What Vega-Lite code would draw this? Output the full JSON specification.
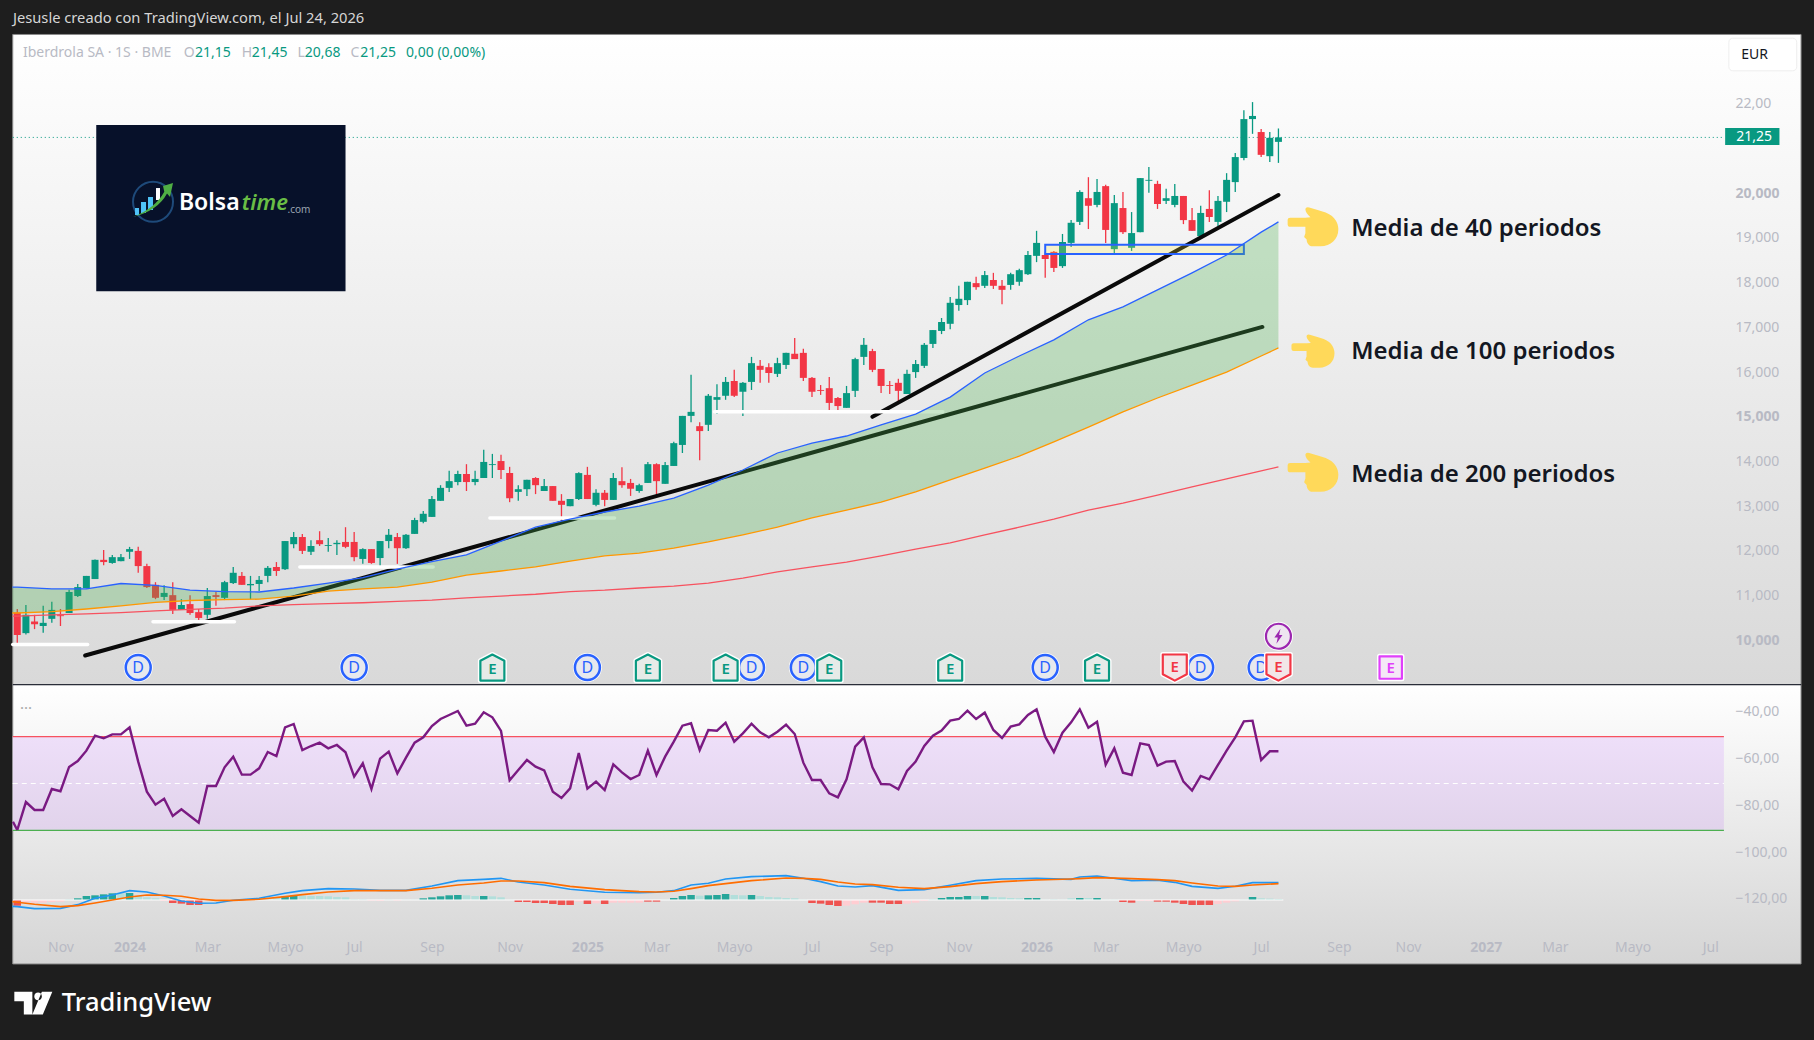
{
  "$schema": "https://vega.github.io/schema/vega-lite/v6.json",
  "width": 1814,
  "height": 1040,
  "padding": 0,
  "autosize": {"type": "none"},
  "background": "#1e1e1e",
  "config": {"view": {"stroke": null}, "font": "Noto Sans"},
  "datasets": {
    "semanas": [
      {"d":"2023-10-02","o":10.62,"h":10.70,"l":9.89,"c":10.12,"r":-90.55,"m":-122.89,"f":"B"},
      {"d":"2023-10-09","o":10.16,"h":10.79,"l":10.13,"c":10.57,"r":-78.6,"m":-121.46,"f":"b"},
      {"d":"2023-10-16","o":10.42,"h":10.57,"l":10.25,"c":10.36,"r":-82,"m":-121.61,"f":"b"},
      {"d":"2023-10-23","o":10.32,"h":10.77,"l":10.17,"c":10.39,"r":-82,"m":-121.61,"f":"b"},
      {"d":"2023-10-30","o":10.48,"h":10.86,"l":10.39,"c":10.68,"r":-73.03,"m":-121.32,"f":"b"},
      {"d":"2023-11-06","o":10.56,"h":10.70,"l":10.32,"c":10.54,"r":-74,"m":-121.18,"f":"b"},
      {"d":"2023-11-13","o":10.61,"h":11.13,"l":10.61,"c":11.08,"r":-63.6,"m":-120.18,"f":"a"},
      {"d":"2023-11-20","o":10.99,"h":11.26,"l":10.97,"c":11.19,"r":-61.07,"m":-119.75,"f":"A"},
      {"d":"2023-11-27","o":11.17,"h":11.44,"l":11.16,"c":11.44,"r":-56.65,"m":-118.76,"f":"A"},
      {"d":"2023-12-04","o":11.37,"h":11.81,"l":11.37,"c":11.80,"r":-50.24,"m":-118.47,"f":"A"},
      {"d":"2023-12-11","o":11.80,"h":12.02,"l":11.68,"c":11.75,"r":-51.38,"m":-118.05,"f":"A"},
      {"d":"2023-12-18","o":11.73,"h":11.91,"l":11.71,"c":11.86,"r":-49.67,"m":-117.62,"f":"A"},
      {"d":"2023-12-25","o":11.77,"h":11.93,"l":11.77,"c":11.86,"r":-49.67,"m":-117.62,"f":"a"},
      {"d":"2024-01-01","o":11.98,"h":12.09,"l":11.82,"c":12.04,"r":-46.68,"m":-117.48,"f":"A"},
      {"d":"2024-01-08","o":12.00,"h":12.09,"l":11.51,"c":11.66,"r":-61.35,"m":-118.76,"f":"a"},
      {"d":"2024-01-15","o":11.66,"h":11.71,"l":11.17,"c":11.19,"r":-74.17,"m":-119.33,"f":"a"},
      {"d":"2024-01-22","o":11.24,"h":11.30,"l":10.92,"c":10.95,"r":-79.73,"m":-119.75,"f":"a"},
      {"d":"2024-01-29","o":10.97,"h":11.23,"l":10.90,"c":11.06,"r":-77.16,"m":-120.9,"f":"b"},
      {"d":"2024-02-05","o":11.01,"h":11.30,"l":10.59,"c":10.68,"r":-84.57,"m":-121.75,"f":"B"},
      {"d":"2024-02-12","o":10.68,"h":10.92,"l":10.68,"c":10.79,"r":-81.72,"m":-122.03,"f":"B"},
      {"d":"2024-02-19","o":10.81,"h":11.01,"l":10.57,"c":10.61,"r":-84.57,"m":-122.6,"f":"B"},
      {"d":"2024-02-26","o":10.63,"h":10.70,"l":10.43,"c":10.50,"r":-87.42,"m":-122.6,"f":"B"},
      {"d":"2024-03-04","o":10.57,"h":11.17,"l":10.48,"c":10.99,"r":-71.75,"m":-120.75,"f":"b"},
      {"d":"2024-03-11","o":11.01,"h":11.08,"l":10.77,"c":10.97,"r":-71.75,"m":-120.75,"f":"b"},
      {"d":"2024-03-18","o":10.95,"h":11.33,"l":10.90,"c":11.30,"r":-63.77,"m":-120.33,"f":"a"},
      {"d":"2024-03-25","o":11.28,"h":11.64,"l":11.26,"c":11.51,"r":-59.21,"m":-120.33,"f":"a"},
      {"d":"2024-04-01","o":11.44,"h":11.53,"l":11.24,"c":11.24,"r":-66.9,"m":-120.18,"f":"a"},
      {"d":"2024-04-08","o":11.23,"h":11.44,"l":10.92,"c":11.26,"r":-66.9,"m":-120.04,"f":"a"},
      {"d":"2024-04-15","o":11.26,"h":11.44,"l":11.10,"c":11.35,"r":-64.2,"m":-119.75,"f":"a"},
      {"d":"2024-04-22","o":11.44,"h":11.66,"l":11.30,"c":11.62,"r":-57.22,"m":-119.61,"f":"a"},
      {"d":"2024-04-29","o":11.64,"h":11.75,"l":11.44,"c":11.55,"r":-58.93,"m":-119.47,"f":"a"},
      {"d":"2024-05-06","o":11.59,"h":12.22,"l":11.57,"c":12.22,"r":-46.68,"m":-119.04,"f":"A"},
      {"d":"2024-05-13","o":12.15,"h":12.42,"l":12.06,"c":12.31,"r":-45.25,"m":-118.62,"f":"A"},
      {"d":"2024-05-20","o":12.31,"h":12.38,"l":11.93,"c":12.00,"r":-56.37,"m":-118.62,"f":"a"},
      {"d":"2024-05-27","o":11.98,"h":12.24,"l":11.91,"c":12.11,"r":-54.66,"m":-118.76,"f":"a"},
      {"d":"2024-06-03","o":12.24,"h":12.44,"l":12.11,"c":12.15,"r":-53.23,"m":-118.76,"f":"a"},
      {"d":"2024-06-10","o":12.11,"h":12.29,"l":11.98,"c":12.13,"r":-55.65,"m":-118.9,"f":"a"},
      {"d":"2024-06-17","o":12.15,"h":12.24,"l":11.91,"c":12.18,"r":-54.23,"m":-119.19,"f":"a"},
      {"d":"2024-06-24","o":12.20,"h":12.53,"l":12.06,"c":12.09,"r":-57.36,"m":-119.33,"f":"a"},
      {"d":"2024-07-01","o":12.20,"h":12.42,"l":11.77,"c":11.86,"r":-67.76,"m":-120.18,"f":"a"},
      {"d":"2024-07-08","o":11.82,"h":12.06,"l":11.71,"c":12.04,"r":-62.06,"m":-120.18,"f":"a"},
      {"d":"2024-07-15","o":12.04,"h":12.04,"l":11.71,"c":11.73,"r":-73.03,"m":-120.75,"f":"b"},
      {"d":"2024-07-22","o":11.84,"h":12.22,"l":11.64,"c":12.22,"r":-60.07,"m":-120.9,"f":"b"},
      {"d":"2024-07-29","o":12.22,"h":12.49,"l":12.06,"c":12.36,"r":-57.08,"m":-120.33,"f":"a"},
      {"d":"2024-08-05","o":12.31,"h":12.40,"l":11.71,"c":12.06,"r":-66.34,"m":-120.75,"f":"b"},
      {"d":"2024-08-12","o":12.06,"h":12.38,"l":12.04,"c":12.36,"r":-59.64,"m":-120.33,"f":"a"},
      {"d":"2024-08-19","o":12.38,"h":12.74,"l":12.38,"c":12.69,"r":-53.23,"m":-120.33,"f":"a"},
      {"d":"2024-08-26","o":12.65,"h":12.89,"l":12.62,"c":12.83,"r":-50.95,"m":-119.75,"f":"A"},
      {"d":"2024-09-02","o":12.76,"h":13.23,"l":12.76,"c":13.16,"r":-46.11,"m":-119.33,"f":"A"},
      {"d":"2024-09-09","o":13.12,"h":13.47,"l":13.12,"c":13.41,"r":-43.12,"m":-118.9,"f":"A"},
      {"d":"2024-09-16","o":13.41,"h":13.79,"l":13.32,"c":13.56,"r":-41.41,"m":-118.47,"f":"A"},
      {"d":"2024-09-23","o":13.54,"h":13.79,"l":13.47,"c":13.72,"r":-39.7,"m":-118.33,"f":"A"},
      {"d":"2024-09-30","o":13.72,"h":13.94,"l":13.34,"c":13.54,"r":-45.97,"m":-118.47,"f":"a"},
      {"d":"2024-10-07","o":13.54,"h":13.79,"l":13.47,"c":13.61,"r":-45.11,"m":-118.76,"f":"a"},
      {"d":"2024-10-14","o":13.63,"h":14.26,"l":13.63,"c":13.99,"r":-40.27,"m":-118.76,"f":"A"},
      {"d":"2024-10-21","o":13.92,"h":14.17,"l":13.63,"c":13.94,"r":-42.4,"m":-118.9,"f":"a"},
      {"d":"2024-10-28","o":14.01,"h":14.15,"l":13.61,"c":13.81,"r":-48.24,"m":-119.33,"f":"a"},
      {"d":"2024-11-04","o":13.74,"h":13.88,"l":13.09,"c":13.18,"r":-69.33,"m":-120.33,"f":"a"},
      {"d":"2024-11-11","o":13.32,"h":13.47,"l":13.12,"c":13.38,"r":-64.91,"m":-121.32,"f":"B"},
      {"d":"2024-11-18","o":13.38,"h":13.59,"l":13.23,"c":13.59,"r":-60.64,"m":-121.32,"f":"B"},
      {"d":"2024-11-25","o":13.63,"h":13.65,"l":13.27,"c":13.47,"r":-63.49,"m":-121.75,"f":"B"},
      {"d":"2024-12-02","o":13.34,"h":13.61,"l":13.34,"c":13.45,"r":-65.05,"m":-121.75,"f":"B"},
      {"d":"2024-12-09","o":13.45,"h":13.45,"l":13.12,"c":13.12,"r":-74.17,"m":-122.18,"f":"B"},
      {"d":"2024-12-16","o":13.12,"h":13.27,"l":12.67,"c":13.03,"r":-76.88,"m":-122.6,"f":"B"},
      {"d":"2024-12-23","o":13.00,"h":13.16,"l":13.00,"c":13.16,"r":-72.75,"m":-122.6,"f":"B"},
      {"d":"2024-12-30","o":13.16,"h":13.76,"l":13.14,"c":13.74,"r":-57.65,"m":-121.18,"f":"b"},
      {"d":"2025-01-06","o":13.70,"h":13.88,"l":13.16,"c":13.16,"r":-72.89,"m":-122.18,"f":"B"},
      {"d":"2025-01-13","o":13.03,"h":13.38,"l":13.00,"c":13.30,"r":-69.9,"m":-121.89,"f":"b"},
      {"d":"2025-01-20","o":13.30,"h":13.36,"l":13.00,"c":13.14,"r":-73.46,"m":-122.18,"f":"B"},
      {"d":"2025-01-27","o":13.14,"h":13.74,"l":13.14,"c":13.63,"r":-62.49,"m":-121.61,"f":"b"},
      {"d":"2025-02-03","o":13.56,"h":13.87,"l":13.41,"c":13.47,"r":-65.91,"m":-121.61,"f":"b"},
      {"d":"2025-02-10","o":13.52,"h":13.61,"l":13.23,"c":13.39,"r":-68.76,"m":-121.61,"f":"b"},
      {"d":"2025-02-17","o":13.34,"h":13.50,"l":13.30,"c":13.47,"r":-67.05,"m":-121.61,"f":"b"},
      {"d":"2025-02-24","o":13.52,"h":13.99,"l":13.52,"c":13.94,"r":-56.65,"m":-121.18,"f":"B"},
      {"d":"2025-03-03","o":13.94,"h":13.96,"l":13.21,"c":13.56,"r":-67.05,"m":-121.18,"f":"B"},
      {"d":"2025-03-10","o":13.50,"h":13.99,"l":13.50,"c":13.92,"r":-59.21,"m":-120.33,"f":"a"},
      {"d":"2025-03-17","o":13.90,"h":14.44,"l":13.90,"c":14.41,"r":-52.8,"m":-119.61,"f":"A"},
      {"d":"2025-03-24","o":14.37,"h":15.02,"l":14.19,"c":15.02,"r":-45.97,"m":-118.76,"f":"A"},
      {"d":"2025-03-31","o":15.02,"h":15.94,"l":14.88,"c":15.11,"r":-44.97,"m":-118.33,"f":"A"},
      {"d":"2025-04-07","o":14.79,"h":14.88,"l":14.03,"c":14.68,"r":-56.36,"m":-118.62,"f":"a"},
      {"d":"2025-04-14","o":14.82,"h":15.51,"l":14.68,"c":15.47,"r":-47.82,"m":-118.47,"f":"A"},
      {"d":"2025-04-21","o":15.38,"h":15.73,"l":15.06,"c":15.44,"r":-48.1,"m":-118.33,"f":"A"},
      {"d":"2025-04-28","o":15.47,"h":15.89,"l":15.38,"c":15.78,"r":-44.68,"m":-117.9,"f":"A"},
      {"d":"2025-05-05","o":15.80,"h":16.05,"l":15.44,"c":15.47,"r":-52.8,"m":-118.33,"f":"a"},
      {"d":"2025-05-12","o":15.56,"h":15.78,"l":15.02,"c":15.76,"r":-49.24,"m":-118.47,"f":"a"},
      {"d":"2025-05-19","o":15.78,"h":16.34,"l":15.60,"c":16.20,"r":-45.11,"m":-118.33,"f":"A"},
      {"d":"2025-05-26","o":16.14,"h":16.27,"l":15.76,"c":16.05,"r":-48.8,"m":-118.76,"f":"a"},
      {"d":"2025-06-02","o":16.11,"h":16.20,"l":15.76,"c":15.98,"r":-50.95,"m":-119.19,"f":"a"},
      {"d":"2025-06-09","o":15.96,"h":16.32,"l":15.89,"c":16.20,"r":-48.53,"m":-119.33,"f":"a"},
      {"d":"2025-06-16","o":16.16,"h":16.43,"l":16.07,"c":16.43,"r":-45.54,"m":-119.61,"f":"a"},
      {"d":"2025-06-23","o":16.41,"h":16.76,"l":16.29,"c":16.29,"r":-49.53,"m":-119.75,"f":"a"},
      {"d":"2025-06-30","o":16.43,"h":16.52,"l":15.80,"c":15.87,"r":-61.78,"m":-120.33,"f":"a"},
      {"d":"2025-07-07","o":15.87,"h":15.89,"l":15.44,"c":15.56,"r":-69.19,"m":-121.75,"f":"B"},
      {"d":"2025-07-14","o":15.60,"h":15.71,"l":15.49,"c":15.58,"r":-69.19,"m":-122.03,"f":"B"},
      {"d":"2025-07-21","o":15.64,"h":15.89,"l":15.15,"c":15.31,"r":-74.88,"m":-122.6,"f":"B"},
      {"d":"2025-07-28","o":15.42,"h":15.44,"l":15.09,"c":15.24,"r":-76.59,"m":-123.03,"f":"B"},
      {"d":"2025-08-04","o":15.20,"h":15.69,"l":15.20,"c":15.53,"r":-68.9,"m":-122.89,"f":"b"},
      {"d":"2025-08-11","o":15.58,"h":16.32,"l":15.44,"c":16.29,"r":-54.94,"m":-122.32,"f":"b"},
      {"d":"2025-08-18","o":16.34,"h":16.76,"l":16.16,"c":16.61,"r":-50.95,"m":-121.61,"f":"b"},
      {"d":"2025-08-25","o":16.47,"h":16.52,"l":16.00,"c":16.05,"r":-63.77,"m":-121.61,"f":"B"},
      {"d":"2025-09-01","o":16.07,"h":16.07,"l":15.53,"c":15.69,"r":-70.89,"m":-121.61,"f":"B"},
      {"d":"2025-09-08","o":15.71,"h":15.80,"l":15.51,"c":15.69,"r":-71.04,"m":-122.18,"f":"B"},
      {"d":"2025-09-15","o":15.76,"h":15.85,"l":15.33,"c":15.58,"r":-73.17,"m":-122.18,"f":"B"},
      {"d":"2025-09-22","o":15.51,"h":16.05,"l":15.51,"c":15.96,"r":-65.34,"m":-122.03,"f":"b"},
      {"d":"2025-09-29","o":16.00,"h":16.27,"l":15.87,"c":16.18,"r":-61.35,"m":-121.61,"f":"b"},
      {"d":"2025-10-06","o":16.14,"h":16.65,"l":16.09,"c":16.61,"r":-54.66,"m":-120.9,"f":"b"},
      {"d":"2025-10-13","o":16.63,"h":16.94,"l":16.54,"c":16.94,"r":-50.24,"m":-120.18,"f":"a"},
      {"d":"2025-10-20","o":16.92,"h":17.21,"l":16.85,"c":17.12,"r":-48.1,"m":-119.61,"f":"A"},
      {"d":"2025-10-27","o":17.08,"h":17.68,"l":16.96,"c":17.55,"r":-43.83,"m":-119.19,"f":"A"},
      {"d":"2025-11-03","o":17.50,"h":17.93,"l":17.37,"c":17.64,"r":-43.12,"m":-119.19,"f":"A"},
      {"d":"2025-11-10","o":17.61,"h":18.02,"l":17.50,"c":18.02,"r":-39.56,"m":-118.76,"f":"A"},
      {"d":"2025-11-17","o":17.99,"h":18.13,"l":17.84,"c":17.90,"r":-43.12,"m":-118.76,"f":"a"},
      {"d":"2025-11-24","o":17.93,"h":18.26,"l":17.88,"c":18.17,"r":-40.41,"m":-118.76,"f":"A"},
      {"d":"2025-12-01","o":18.06,"h":18.22,"l":17.86,"c":17.93,"r":-47.82,"m":-119.19,"f":"a"},
      {"d":"2025-12-08","o":17.93,"h":18.06,"l":17.52,"c":17.84,"r":-51.24,"m":-119.33,"f":"a"},
      {"d":"2025-12-15","o":17.95,"h":18.22,"l":17.84,"c":18.19,"r":-46.39,"m":-119.61,"f":"a"},
      {"d":"2025-12-22","o":18.02,"h":18.31,"l":17.93,"c":18.28,"r":-45.4,"m":-119.75,"f":"a"},
      {"d":"2025-12-29","o":18.19,"h":18.71,"l":18.17,"c":18.62,"r":-41.41,"m":-119.61,"f":"A"},
      {"d":"2026-01-05","o":18.60,"h":19.16,"l":18.46,"c":18.89,"r":-38.99,"m":-119.61,"f":"A"},
      {"d":"2026-01-12","o":18.62,"h":18.69,"l":18.11,"c":18.53,"r":-50.67,"m":-120.33,"f":"a"},
      {"d":"2026-01-19","o":18.69,"h":18.71,"l":18.24,"c":18.33,"r":-57.22,"m":-120.18,"f":"a"},
      {"d":"2026-01-26","o":18.37,"h":19.09,"l":18.33,"c":18.91,"r":-48.96,"m":-120.33,"f":"a"},
      {"d":"2026-02-02","o":18.89,"h":19.40,"l":18.80,"c":19.34,"r":-44.54,"m":-119.75,"f":"a"},
      {"d":"2026-02-09","o":19.36,"h":20.07,"l":19.29,"c":20.03,"r":-38.99,"m":-119.61,"f":"A"},
      {"d":"2026-02-16","o":19.89,"h":20.36,"l":19.20,"c":19.72,"r":-46.82,"m":-119.61,"f":"a"},
      {"d":"2026-02-23","o":19.74,"h":20.32,"l":19.69,"c":20.03,"r":-44.26,"m":-119.61,"f":"A"},
      {"d":"2026-03-02","o":20.16,"h":20.19,"l":18.89,"c":19.18,"r":-62.63,"m":-120.33,"f":"a"},
      {"d":"2026-03-09","o":18.75,"h":19.96,"l":18.66,"c":19.78,"r":-55.65,"m":-120.33,"f":"a"},
      {"d":"2026-03-16","o":19.67,"h":20.03,"l":19.09,"c":19.13,"r":-66.05,"m":-121.32,"f":"B"},
      {"d":"2026-03-23","o":18.78,"h":19.58,"l":18.71,"c":19.11,"r":-67.05,"m":-121.61,"f":"B"},
      {"d":"2026-03-30","o":19.13,"h":20.34,"l":19.13,"c":20.34,"r":-53.52,"m":-120.9,"f":"b"},
      {"d":"2026-04-06","o":20.28,"h":20.59,"l":20.01,"c":20.30,"r":-54.23,"m":-120.9,"f":"b"},
      {"d":"2026-04-13","o":20.21,"h":20.28,"l":19.65,"c":19.76,"r":-63.06,"m":-121.18,"f":"B"},
      {"d":"2026-04-20","o":19.83,"h":20.10,"l":19.76,"c":19.89,"r":-61.35,"m":-121.18,"f":"B"},
      {"d":"2026-04-27","o":19.74,"h":20.21,"l":19.69,"c":19.94,"r":-61.07,"m":-121.61,"f":"B"},
      {"d":"2026-05-04","o":19.94,"h":19.94,"l":19.31,"c":19.40,"r":-69.9,"m":-122.18,"f":"B"},
      {"d":"2026-05-11","o":19.40,"h":19.67,"l":19.16,"c":19.16,"r":-73.74,"m":-122.6,"f":"B"},
      {"d":"2026-05-18","o":19.04,"h":19.72,"l":19.04,"c":19.56,"r":-67.48,"m":-122.6,"f":"B"},
      {"d":"2026-05-25","o":19.65,"h":20.07,"l":19.36,"c":19.47,"r":-68.9,"m":-122.6,"f":"B"},
      {"d":"2026-06-01","o":19.36,"h":19.94,"l":19.27,"c":19.83,"r":-62.77,"m":-122.18,"f":"b"},
      {"d":"2026-06-08","o":19.81,"h":20.45,"l":19.58,"c":20.30,"r":-56.65,"m":-121.61,"f":"b"},
      {"d":"2026-06-15","o":20.25,"h":20.90,"l":20.03,"c":20.81,"r":-50.95,"m":-121.04,"f":"b"},
      {"d":"2026-06-22","o":20.79,"h":21.86,"l":20.74,"c":21.66,"r":-44.11,"m":-120.33,"f":"a"},
      {"d":"2026-06-29","o":21.66,"h":22.04,"l":21.33,"c":21.73,"r":-43.83,"m":-119.19,"f":"A"},
      {"d":"2026-07-06","o":21.37,"h":21.44,"l":20.81,"c":20.86,"r":-60.64,"m":-119.75,"f":"a"},
      {"d":"2026-07-13","o":20.83,"h":21.37,"l":20.70,"c":21.24,"r":-56.93,"m":-119.9,"f":"a"},
      {"d":"2026-07-20","o":21.15,"h":21.45,"l":20.68,"c":21.25,"r":-56.93,"m":-120.04,"f":"a"}
    ],
    "medias": [
      {"d":"2023-09-28","m40":11.19,"m100":10.61,"m200":10.54},
      {"d":"2023-10-02","m40":11.19,"m100":10.61,"m200":10.54},
      {"d":"2023-10-30","m40":11.15,"m100":10.64,"m200":10.57},
      {"d":"2023-11-27","m40":11.15,"m100":10.70,"m200":10.59},
      {"d":"2023-12-25","m40":11.27,"m100":10.77,"m200":10.62},
      {"d":"2024-01-22","m40":11.23,"m100":10.85,"m200":10.66},
      {"d":"2024-02-19","m40":11.12,"m100":10.89,"m200":10.69},
      {"d":"2024-03-18","m40":11.09,"m100":10.91,"m200":10.72},
      {"d":"2024-04-15","m40":11.08,"m100":10.92,"m200":10.77},
      {"d":"2024-05-13","m40":11.17,"m100":10.99,"m200":10.80},
      {"d":"2024-06-10","m40":11.28,"m100":11.10,"m200":10.82},
      {"d":"2024-07-08","m40":11.40,"m100":11.15,"m200":10.84},
      {"d":"2024-08-05","m40":11.59,"m100":11.19,"m200":10.87},
      {"d":"2024-09-02","m40":11.76,"m100":11.30,"m200":10.90},
      {"d":"2024-09-30","m40":11.91,"m100":11.46,"m200":10.95},
      {"d":"2024-10-28","m40":12.22,"m100":11.55,"m200":10.99},
      {"d":"2024-11-25","m40":12.53,"m100":11.64,"m200":11.03},
      {"d":"2024-12-23","m40":12.71,"m100":11.77,"m200":11.09},
      {"d":"2025-01-20","m40":12.87,"m100":11.89,"m200":11.12},
      {"d":"2025-02-17","m40":13.00,"m100":11.95,"m200":11.17},
      {"d":"2025-03-17","m40":13.18,"m100":12.06,"m200":11.21},
      {"d":"2025-04-14","m40":13.47,"m100":12.20,"m200":11.28},
      {"d":"2025-05-12","m40":13.81,"m100":12.36,"m200":11.39},
      {"d":"2025-06-09","m40":14.19,"m100":12.53,"m200":11.53},
      {"d":"2025-07-07","m40":14.41,"m100":12.74,"m200":11.64},
      {"d":"2025-08-04","m40":14.57,"m100":12.91,"m200":11.75},
      {"d":"2025-09-01","m40":14.82,"m100":13.09,"m200":11.89},
      {"d":"2025-09-29","m40":15.06,"m100":13.32,"m200":12.04},
      {"d":"2025-10-27","m40":15.44,"m100":13.59,"m200":12.18},
      {"d":"2025-11-24","m40":15.98,"m100":13.85,"m200":12.36},
      {"d":"2025-12-22","m40":16.36,"m100":14.12,"m200":12.53},
      {"d":"2026-01-19","m40":16.72,"m100":14.44,"m200":12.71},
      {"d":"2026-02-16","m40":17.17,"m100":14.77,"m200":12.91},
      {"d":"2026-03-16","m40":17.46,"m100":15.11,"m200":13.07},
      {"d":"2026-04-13","m40":17.84,"m100":15.42,"m200":13.25},
      {"d":"2026-05-11","m40":18.22,"m100":15.71,"m200":13.43},
      {"d":"2026-06-08","m40":18.62,"m100":16.00,"m200":13.61},
      {"d":"2026-07-06","m40":19.13,"m100":16.36,"m200":13.79},
      {"d":"2026-07-20","m40":19.36,"m100":16.54,"m200":13.88}
    ],
    "macd": [
      {"d":"2023-09-28","a":-123.18,"b":-121.18},
      {"d":"2023-10-02","a":-123.32,"b":-121.46},
      {"d":"2023-10-16","a":-124.17,"b":-122.32},
      {"d":"2023-11-06","a":-124.03,"b":-123.32},
      {"d":"2023-11-20","a":-122.46,"b":-122.89},
      {"d":"2023-12-04","a":-119.75,"b":-121.75},
      {"d":"2023-12-18","a":-118.33,"b":-120.47},
      {"d":"2024-01-01","a":-116.48,"b":-119.19},
      {"d":"2024-01-15","a":-117.05,"b":-118.33},
      {"d":"2024-01-29","a":-118.76,"b":-118.47},
      {"d":"2024-02-12","a":-120.9,"b":-118.9},
      {"d":"2024-02-26","a":-121.89,"b":-120.04},
      {"d":"2024-03-11","a":-121.75,"b":-120.61},
      {"d":"2024-03-25","a":-120.61,"b":-120.61},
      {"d":"2024-04-15","a":-119.75,"b":-120.18},
      {"d":"2024-05-06","a":-117.62,"b":-119.04},
      {"d":"2024-05-20","a":-116.48,"b":-118.19},
      {"d":"2024-06-10","a":-115.62,"b":-117.05},
      {"d":"2024-07-01","a":-115.77,"b":-116.48},
      {"d":"2024-07-22","a":-116.34,"b":-116.48},
      {"d":"2024-08-12","a":-116.34,"b":-116.48},
      {"d":"2024-09-02","a":-114.48,"b":-115.48},
      {"d":"2024-09-23","a":-112.2,"b":-114.06},
      {"d":"2024-10-14","a":-111.64,"b":-113.2},
      {"d":"2024-10-28","a":-111.21,"b":-112.35},
      {"d":"2024-11-11","a":-112.77,"b":-112.35},
      {"d":"2024-12-02","a":-114.06,"b":-113.06},
      {"d":"2024-12-23","a":-115.91,"b":-114.63},
      {"d":"2025-01-20","a":-117.19,"b":-116.05},
      {"d":"2025-02-17","a":-117.33,"b":-116.91},
      {"d":"2025-03-03","a":-117.19,"b":-117.05},
      {"d":"2025-03-17","a":-116.48,"b":-116.76},
      {"d":"2025-03-31","a":-114.06,"b":-115.62},
      {"d":"2025-04-14","a":-113.34,"b":-114.34},
      {"d":"2025-04-28","a":-111.49,"b":-113.49},
      {"d":"2025-05-19","a":-110.5,"b":-112.2},
      {"d":"2025-06-16","a":-110.07,"b":-111.07},
      {"d":"2025-06-30","a":-111.21,"b":-111.21},
      {"d":"2025-07-14","a":-112.63,"b":-111.64},
      {"d":"2025-07-28","a":-114.48,"b":-112.77},
      {"d":"2025-08-11","a":-114.91,"b":-113.63},
      {"d":"2025-08-25","a":-114.34,"b":-113.91},
      {"d":"2025-09-15","a":-116.34,"b":-115.05},
      {"d":"2025-10-06","a":-116.05,"b":-115.62},
      {"d":"2025-10-27","a":-114.2,"b":-114.77},
      {"d":"2025-11-17","a":-112.2,"b":-113.49},
      {"d":"2025-12-08","a":-111.49,"b":-112.63},
      {"d":"2026-01-05","a":-111.21,"b":-111.92},
      {"d":"2026-02-02","a":-111.64,"b":-111.49},
      {"d":"2026-02-09","a":-110.64,"b":-111.35},
      {"d":"2026-02-23","a":-110.21,"b":-110.92},
      {"d":"2026-03-23","a":-112.2,"b":-111.35},
      {"d":"2026-04-13","a":-112.06,"b":-111.78},
      {"d":"2026-04-27","a":-112.92,"b":-112.2},
      {"d":"2026-05-11","a":-114.63,"b":-113.2},
      {"d":"2026-06-01","a":-115.48,"b":-114.48},
      {"d":"2026-06-15","a":-114.63,"b":-114.63},
      {"d":"2026-06-29","a":-113.06,"b":-114.06},
      {"d":"2026-07-20","a":-113.06,"b":-113.49}
    ],
    "eventos": [
      {"d":"2024-01-08","p":9.39,"k":"D"},
      {"d":"2024-07-01","p":9.39,"k":"D"},
      {"d":"2025-01-06","p":9.39,"k":"D"},
      {"d":"2025-05-19","p":9.39,"k":"D"},
      {"d":"2025-06-30","p":9.39,"k":"D"},
      {"d":"2026-01-12","p":9.39,"k":"D"},
      {"d":"2026-05-18","p":9.39,"k":"D"},
      {"d":"2026-07-06","p":9.39,"k":"D"},
      {"d":"2024-10-21","p":9.39,"k":"E"},
      {"d":"2025-02-24","p":9.39,"k":"E"},
      {"d":"2025-04-28","p":9.39,"k":"E"},
      {"d":"2025-07-21","p":9.39,"k":"E"},
      {"d":"2025-10-27","p":9.39,"k":"E"},
      {"d":"2026-02-23","p":9.39,"k":"E"},
      {"d":"2026-04-27","p":9.39,"k":"R"},
      {"d":"2026-07-20","p":9.39,"k":"R"},
      {"d":"2026-10-19","p":9.39,"k":"M"}
    ]
  },
  "encoding": {
    "x": {
      "field": "d",
      "type": "temporal",
      "title": null,
      "scale": {
        "type": "utc",
        "nice": false,
        "padding": 0,
        "domain": [
          {"year": 2023, "month": 9, "date": 18, "utc": true},
          {"year": 2027, "month": 9, "date": 27, "utc": true}
        ]
      },
      "axis": {
        "orient": "bottom",
        "offset": -93,
        "zindex": 1,
        "domain": false,
        "ticks": false,
        "grid": false,
        "labelPadding": 0,
        "labelBaseline": "middle",
        "labelColor": "#b8bac4",
        "labelFontSize": 14,
        "labelOverlap": false,
        "labelFlush": false,
        "labelBound": false,
        "labelFontWeight": {"condition": {"test": "utcmonth(datum.value)===0", "value": "bold"}, "value": "normal"},
        "labelExpr": "utcmonth(datum.value)===0 ? utcyear(datum.value)+'' : {'2':'Mar','4':'Mayo','6':'Jul','8':'Sep','10':'Nov'}[utcmonth(datum.value)+'']",
        "values": [
          {"year": 2023, "month": 11, "date": 6, "utc": true},
          {"year": 2024, "month": 1, "date": 1, "utc": true},
          {"year": 2024, "month": 3, "date": 4, "utc": true},
          {"year": 2024, "month": 5, "date": 6, "utc": true},
          {"year": 2024, "month": 7, "date": 1, "utc": true},
          {"year": 2024, "month": 9, "date": 2, "utc": true},
          {"year": 2024, "month": 11, "date": 4, "utc": true},
          {"year": 2025, "month": 1, "date": 6, "utc": true},
          {"year": 2025, "month": 3, "date": 3, "utc": true},
          {"year": 2025, "month": 5, "date": 5, "utc": true},
          {"year": 2025, "month": 7, "date": 7, "utc": true},
          {"year": 2025, "month": 9, "date": 1, "utc": true},
          {"year": 2025, "month": 11, "date": 3, "utc": true},
          {"year": 2026, "month": 1, "date": 5, "utc": true},
          {"year": 2026, "month": 3, "date": 2, "utc": true},
          {"year": 2026, "month": 5, "date": 4, "utc": true},
          {"year": 2026, "month": 7, "date": 6, "utc": true},
          {"year": 2026, "month": 9, "date": 7, "utc": true},
          {"year": 2026, "month": 11, "date": 2, "utc": true},
          {"year": 2027, "month": 1, "date": 4, "utc": true},
          {"year": 2027, "month": 3, "date": 1, "utc": true},
          {"year": 2027, "month": 5, "date": 3, "utc": true},
          {"year": 2027, "month": 7, "date": 5, "utc": true}
        ]
      }
    }
  },
  "layer": [
    {
      "encoding": {
        "y": {
          "field": "p",
          "type": "quantitative",
          "title": null,
          "scale": {"domain": [1.058, 24.324], "nice": false, "zero": false},
          "axis": {
            "orient": "right",
            "offset": -79,
            "zindex": 1,
            "domain": false,
            "ticks": false,
            "grid": false,
            "labelPadding": 0,
            "labelAlign": "left",
            "labelColor": "#b8bac4",
            "labelFontSize": 14,
            "labelOverlap": false,
            "labelBound": false,
            "labelFlush": false,
            "labelFontWeight": {"condition": {"test": "datum.value===20||datum.value===15||datum.value===10", "value": "bold"}, "value": "normal"},
            "labelExpr": "datum.value===22 ? '22,00' : datum.value+',000'",
            "values": [22, 20, 19, 18, 17, 16, 15, 14, 13, 12, 11, 10]
          }
        }
      },
      "layer": [
        {
          "data": {"values": [{"d": "2023-09-28T08:00:00Z", "d2": "2027-09-16T12:00:00Z", "p": 23.553, "p2": 9.01}], "format": {"parse": {"d2": "date"}}},
          "mark": {"type": "rect", "stroke": "#8c8c8c", "strokeWidth": 1, "fill": {"gradient": "linear", "x1": 0, "y1": 0, "x2": 0, "y2": 1, "stops": [{"offset": 0, "color": "#ffffff"}, {"offset": 1, "color": "#d9d9d9"}]}},
          "encoding": {"x2": {"field": "d2"}, "y2": {"field": "p2"}}
        },
        {
          "data": {"values": [{"d": "2023-09-28T08:00:00Z", "d2": "2027-07-16", "p": 21.25}], "format": {"parse": {"d2": "date"}}},
          "mark": {"type": "rule", "color": "#089981", "strokeWidth": 1, "strokeDash": [1, 3]},
          "encoding": {"x2": {"field": "d2"}}
        },
        {
          "data": {"values": [{"d": "2023-12-05", "d2": "2024-06-24", "p": 21.53, "p2": 17.81}], "format": {"parse": {"d2": "date"}}},
          "mark": {"type": "rect", "fill": "#07112a"},
          "encoding": {"x2": {"field": "d2"}, "y2": {"field": "p2"}}
        },
        {
          "data": {"values": [{"d": "2024-01-20", "p": 19.81}]},
          "layer": [
            {"mark": {"type": "point", "shape": "circle", "size": 1600, "filled": false, "stroke": "#1e4a7a", "strokeWidth": 2, "opacity": 1}},
            {"mark": {"type": "point", "filled": true, "opacity": 1, "color": "#4fc3f7", "size": 2500, "shape": "M-.72,.25 H-.56 V.53 H-.72Z M-.48,.01 H-.28 V.45 H-.48Z M-.2,-.19 H0 V.33 H-.2Z"}},
            {"mark": {"type": "point", "filled": true, "opacity": 1, "color": "#ffffff", "size": 2500, "shape": "M.12,-.55 H.28 V-.07 H.12Z"}},
            {"mark": {"type": "point", "filled": true, "opacity": 1, "color": "#4fae44", "size": 2500, "shape": "M-.8,.61 Q.1,.25 .45,-.4 L.4,-.63 L.8,-.75 L.68,-.19 L.56,-.33 Q.2,.35 -.8,.61Z"}}
          ]
        },
        {
          "data": {"values": [{"d": "2024-02-10", "p": 19.78, "t": "Bolsa"}]},
          "mark": {"type": "text", "align": "left", "baseline": "middle", "color": "#ffffff", "fontSize": 23, "fontWeight": 600},
          "encoding": {"text": {"field": "t"}}
        },
        {
          "data": {"values": [{"d": "2024-04-01", "p": 19.78, "t": "time"}]},
          "mark": {"type": "text", "align": "left", "baseline": "middle", "color": "#69bd45", "fontSize": 22, "fontWeight": 600, "fontStyle": "italic"},
          "encoding": {"text": {"field": "t"}}
        },
        {
          "data": {"values": [{"d": "2024-05-08", "p": 19.63, "t": ".com"}]},
          "mark": {"type": "text", "align": "left", "baseline": "middle", "color": "#9aa3b0", "fontSize": 10},
          "encoding": {"text": {"field": "t"}}
        },
        {
          "data": {"name": "semanas"},
          "encoding": {
            "color": {"condition": {"test": "datum.c>=datum.o", "value": "#089981"}, "value": "#f23645"}
          },
          "layer": [
            {
              "mark": {"type": "rule", "strokeWidth": 1.3},
              "encoding": {"y": {"field": "l", "type": "quantitative"}, "y2": {"field": "h"}}
            },
            {
              "mark": {"type": "bar", "size": 7},
              "encoding": {"y": {"field": "o", "type": "quantitative"}, "y2": {"field": "c"}}
            }
          ]
        },
        {
          "data": {"values": [
            {"d": "2023-11-26", "p": 9.66, "n": "a"},
            {"d": "2026-07-07", "p": 17.01, "n": "a"},
            {"d": "2025-08-25", "p": 15.0, "n": "b"},
            {"d": "2026-07-20", "p": 19.96, "n": "b"}
          ]},
          "mark": {"type": "line", "color": "#0a0a0a", "strokeWidth": 4, "strokeCap": "round"},
          "encoding": {"detail": {"field": "n"}}
        },
        {
          "data": {"values": [
            {"d": "2023-09-28T08:00:00Z", "d2": "2023-11-28", "p": 9.905},
            {"d": "2024-01-20", "d2": "2024-03-26", "p": 10.416},
            {"d": "2024-05-18", "d2": "2024-09-03", "p": 11.64},
            {"d": "2024-10-19", "d2": "2025-01-28", "p": 12.735},
            {"d": "2025-04-19", "d2": "2025-10-21", "p": 15.11}
          ], "format": {"parse": {"d2": "date"}}},
          "mark": {"type": "rule", "color": "#ffffff", "strokeWidth": 3.5, "strokeCap": "round"},
          "encoding": {"x2": {"field": "d2"}}
        },
        {
          "data": {"values": [{"d": "2026-01-12", "d2": "2026-06-22", "p": 18.85, "p2": 18.64}], "format": {"parse": {"d2": "date"}}},
          "mark": {"type": "rect", "fill": "#ffeb3b", "fillOpacity": 0.22, "stroke": "#2962ff", "strokeWidth": 2},
          "encoding": {"x2": {"field": "d2"}, "y2": {"field": "p2"}}
        },
        {
          "data": {"name": "medias"},
          "layer": [
            {
              "mark": {"type": "area", "color": "#4caf50", "opacity": 0.3},
              "encoding": {"y": {"field": "m40", "type": "quantitative"}, "y2": {"field": "m100"}}
            },
            {
              "mark": {"type": "line", "color": "#ff9800", "strokeWidth": 1.3},
              "encoding": {"y": {"field": "m100", "type": "quantitative"}}
            },
            {
              "mark": {"type": "line", "color": "#f7525f", "strokeWidth": 1.3},
              "encoding": {"y": {"field": "m200", "type": "quantitative"}}
            },
            {
              "mark": {"type": "line", "color": "#2962ff", "strokeWidth": 1.3},
              "encoding": {"y": {"field": "m40", "type": "quantitative"}}
            }
          ]
        },
        {
          "data": {"name": "eventos"},
          "transform": [{"filter": "datum.k==='D'"}],
          "layer": [
            {"mark": {"type": "point", "shape": "circle", "filled": true, "opacity": 1, "color": "#ffffff", "size": 841}},
            {"mark": {"type": "point", "shape": "circle", "opacity": 1, "fill": "#e6e8ee", "fillOpacity": 1, "stroke": "#2962ff", "strokeWidth": 2.5, "size": 625}},
            {"mark": {"type": "text", "text": "D", "color": "#2962ff", "fontSize": 16, "baseline": "middle"}}
          ]
        },
        {
          "data": {"name": "eventos"},
          "transform": [{"filter": "datum.k==='E'"}],
          "layer": [
            {"mark": {"type": "point", "shape": "M0,-.87 L.8,-.45 L.8,.87 L-.8,.87 L-.8,-.45Z", "opacity": 1, "fill": "#e6ebe8", "fillOpacity": 1, "stroke": "#ffffff", "strokeWidth": 5, "strokeJoin": "round", "size": 900}},
            {"mark": {"type": "point", "shape": "M0,-.87 L.8,-.45 L.8,.87 L-.8,.87 L-.8,-.45Z", "opacity": 1, "fill": "#e6ebe8", "fillOpacity": 1, "stroke": "#089981", "strokeWidth": 2.2, "strokeJoin": "round", "size": 900}},
            {"mark": {"type": "text", "text": "E", "color": "#089981", "fontSize": 15, "fontWeight": 600, "baseline": "middle", "dy": 1}}
          ]
        },
        {
          "data": {"name": "eventos"},
          "transform": [{"filter": "datum.k==='R'"}],
          "layer": [
            {"mark": {"type": "point", "shape": "M-.8,-.87 L.8,-.87 L.8,.45 L0,.87 L-.8,.45Z", "opacity": 1, "fill": "#f2e6e8", "fillOpacity": 1, "stroke": "#ffffff", "strokeWidth": 5, "strokeJoin": "round", "size": 900}},
            {"mark": {"type": "point", "shape": "M-.8,-.87 L.8,-.87 L.8,.45 L0,.87 L-.8,.45Z", "opacity": 1, "fill": "#f2e6e8", "fillOpacity": 1, "stroke": "#f23645", "strokeWidth": 2.2, "strokeJoin": "round", "size": 900}},
            {"mark": {"type": "text", "text": "E", "color": "#f23645", "fontSize": 15, "fontWeight": 600, "baseline": "middle", "dy": -1}}
          ]
        },
        {
          "data": {"name": "eventos"},
          "transform": [{"filter": "datum.k==='M'"}],
          "layer": [
            {"mark": {"type": "point", "shape": "M-.8,-.8 H.8 V.8 H-.8Z", "opacity": 1, "fill": "#f4e8f6", "fillOpacity": 1, "stroke": "#ffffff", "strokeWidth": 5, "strokeJoin": "round", "size": 784}},
            {"mark": {"type": "point", "shape": "M-.8,-.8 H.8 V.8 H-.8Z", "opacity": 1, "fill": "#f4e8f6", "fillOpacity": 1, "stroke": "#e040fb", "strokeWidth": 2.2, "strokeJoin": "round", "size": 784}},
            {"mark": {"type": "text", "text": "E", "color": "#e040fb", "fontSize": 15, "fontWeight": 600, "baseline": "middle"}}
          ]
        },
        {
          "data": {"values": [{"d": "2026-07-20", "p": 10.09}]},
          "layer": [
            {"mark": {"type": "point", "shape": "circle", "filled": true, "opacity": 1, "color": "#ffffff", "size": 841}},
            {"mark": {"type": "point", "shape": "circle", "opacity": 1, "fill": "#eee6f0", "fillOpacity": 1, "stroke": "#9c27b0", "strokeWidth": 2.2, "size": 625}},
            {"mark": {"type": "point", "filled": true, "opacity": 1, "color": "#9c27b0", "size": 729, "shape": "M.15,-.55 L-.3,.1 L-.05,.1 L-.15,.55 L.3,-.1 L.05,-.1Z"}}
          ]
        },
        {
          "data": {"values": [{"d": "2026-08-17", "p": 19.25}, {"d": "2026-08-17", "p": 13.76}]},
          "mark": {"type": "point", "filled": true, "opacity": 1, "color": "#ffd95a", "size": 2570, "shape": "M-1,-.28 Q-1,-.36 -.9,-.36 L-.3,-.36 L-.1,-.38 Q-.3,-.55 -.3,-.7 Q-.28,-.8 -.15,-.76 Q.2,-.66 .5,-.56 C.9,-.4 1,-.1 1,.1 C1,.5 .7,.77 .3,.77 L0,.77 C-.2,.77 -.25,.6 -.25,.5 L-.35,.4 L-.3,.25 L-.3,0 L-.9,0 Q-1,0 -1,-.1Z"}
        },
        {
          "data": {"values": [{"d": "2026-08-17", "p": 16.47}]},
          "mark": {"type": "point", "filled": true, "opacity": 1, "color": "#ffd95a", "size": 1850, "shape": "M-1,-.28 Q-1,-.36 -.9,-.36 L-.3,-.36 L-.1,-.38 Q-.3,-.55 -.3,-.7 Q-.28,-.8 -.15,-.76 Q.2,-.66 .5,-.56 C.9,-.4 1,-.1 1,.1 C1,.5 .7,.77 .3,.77 L0,.77 C-.2,.77 -.25,.6 -.25,.5 L-.35,.4 L-.3,.25 L-.3,0 L-.9,0 Q-1,0 -1,-.1Z"}
        },
        {
          "data": {"values": [
            {"d": "2026-09-17", "p": 19.2, "t": "Media de 40 periodos"},
            {"d": "2026-09-17", "p": 16.46, "t": "Media de 100 periodos"},
            {"d": "2026-09-17", "p": 13.7, "t": "Media de 200 periodos"}
          ]},
          "mark": {"type": "text", "align": "left", "baseline": "middle", "color": "#131722", "fontSize": 24, "fontWeight": 600},
          "encoding": {"text": {"field": "t"}}
        },
        {
          "data": {"values": [{"d": "2027-07-17", "d2": "2027-08-30", "p": 21.46, "p2": 21.08}], "format": {"parse": {"d2": "date"}}},
          "mark": {"type": "rect", "fill": "#089981"},
          "encoding": {"x2": {"field": "d2"}, "y2": {"field": "p2"}}
        },
        {
          "data": {"values": [{"d": "2027-07-26", "p": 21.26, "t": "21,25"}]},
          "mark": {"type": "text", "align": "left", "baseline": "middle", "color": "#ffffff", "fontSize": 14},
          "encoding": {"text": {"field": "t"}}
        },
        {
          "data": {"values": [{"d": "2027-07-20", "d2": "2027-09-13", "p": 23.47, "p2": 22.74}], "format": {"parse": {"d2": "date"}}},
          "mark": {"type": "rect", "fill": "#ffffff", "stroke": "#eeeeee", "cornerRadius": 4},
          "encoding": {"x2": {"field": "d2"}, "y2": {"field": "p2"}}
        },
        {
          "data": {"values": [{"d": "2027-07-30", "p": 23.09, "t": "EUR"}]},
          "mark": {"type": "text", "align": "left", "baseline": "middle", "color": "#131722", "fontSize": 14},
          "encoding": {"text": {"field": "t"}}
        },
        {
          "data": {"values": [{"d": "2023-09-28T12:00:00Z", "p": 23.89, "t": "Jesusle creado con TradingView.com, el Jul 24, 2026"}]},
          "mark": {"type": "text", "align": "left", "baseline": "middle", "color": "#d6d6d6", "fontSize": 14.7},
          "encoding": {"text": {"field": "t"}}
        },
        {
          "data": {"values": [
            {"d": "2023-10-06T15:00:00Z", "p": 23.13, "t": "Iberdrola SA · 1S · BME"},
            {"d": "2024-02-14", "p": 23.13, "t": "O"},
            {"d": "2024-04-01", "p": 23.13, "t": "H"},
            {"d": "2024-05-16", "p": 23.13, "t": "L"},
            {"d": "2024-06-28", "p": 23.13, "t": "C"}
          ]},
          "mark": {"type": "text", "align": "left", "baseline": "middle", "color": "#b8bac4", "fontSize": 14},
          "encoding": {"text": {"field": "t"}}
        },
        {
          "data": {"values": [
            {"d": "2024-02-23", "p": 23.13, "t": "21,15"},
            {"d": "2024-04-09", "p": 23.13, "t": "21,45"},
            {"d": "2024-05-22", "p": 23.13, "t": "20,68"},
            {"d": "2024-07-06", "p": 23.13, "t": "21,25"},
            {"d": "2024-08-12", "p": 23.13, "t": "0,00 (0,00%)"}
          ]},
          "mark": {"type": "text", "align": "left", "baseline": "middle", "color": "#089981", "fontSize": 14},
          "encoding": {"text": {"field": "t"}}
        },
        {
          "data": {"values": [{"d": "2023-11-07", "p": 1.885, "t": "TradingView"}]},
          "mark": {"type": "text", "align": "left", "baseline": "middle", "color": "#ffffff", "fontSize": 25.5, "fontWeight": 500},
          "encoding": {"text": {"field": "t"}}
        },
        {
          "data": {"values": [{"d": "2023-10-15", "p": 1.885}]},
          "mark": {"type": "point", "filled": true, "opacity": 1, "color": "#ffffff", "size": 1444, "shape": "M-1,-.6 H-.05 V.6 H-.5 V-.1 H-1Z M.05,-.35 A.2,.2 0 1,0 .45,-.35 A.2,.2 0 1,0 .05,-.35Z M.45,-.6 H1 L.5,.6 H-.05Z"}
        }
      ]
    },
    {
      "encoding": {
        "y": {
          "field": "v",
          "type": "quantitative",
          "title": null,
          "scale": {"domain": [-180.3, 264.15], "nice": false, "zero": false},
          "axis": {
            "orient": "right",
            "offset": -79,
            "zindex": 1,
            "domain": false,
            "ticks": false,
            "grid": false,
            "labelPadding": 0,
            "labelAlign": "left",
            "labelColor": "#b8bac4",
            "labelFontSize": 14,
            "labelOverlap": false,
            "labelBound": false,
            "labelFlush": false,
            "labelExpr": "'−'+abs(datum.value)+',00'",
            "values": [-40, -60, -80, -100, -120]
          }
        }
      },
      "layer": [
        {
          "data": {"values": [{"d": "2023-09-28T08:00:00Z", "d2": "2027-09-16T12:00:00Z", "v": -28.4, "v2": -147.8}], "format": {"parse": {"d2": "date"}}},
          "mark": {"type": "rect", "stroke": "#8c8c8c", "strokeWidth": 1, "fill": {"gradient": "linear", "x1": 0, "y1": 0, "x2": 0, "y2": 1, "stops": [{"offset": 0, "color": "#ffffff"}, {"offset": 1, "color": "#d5d5d5"}]}},
          "encoding": {"x2": {"field": "d2"}, "y2": {"field": "v2"}}
        },
        {
          "data": {"values": [{"d": "2023-09-28T08:00:00Z", "d2": "2027-09-16T12:00:00Z", "v": -28.4}], "format": {"parse": {"d2": "date"}}},
          "mark": {"type": "rule", "color": "#2a2e39", "strokeWidth": 1.2},
          "encoding": {"x2": {"field": "d2"}}
        },
        {
          "data": {"values": [{"d": "2023-09-28T08:00:00Z", "d2": "2027-07-16", "v": -50.68, "v2": -90.68}], "format": {"parse": {"d2": "date"}}},
          "mark": {"type": "rect", "fill": {"gradient": "linear", "x1": 0, "y1": 0, "x2": 0, "y2": 1, "stops": [{"offset": 0, "color": "#eedff9"}, {"offset": 1, "color": "#e1d3eb"}]}},
          "encoding": {"x2": {"field": "d2"}, "y2": {"field": "v2"}}
        },
        {
          "data": {"values": [{"d": "2023-09-28T08:00:00Z", "d2": "2027-07-16", "v": -50.68}], "format": {"parse": {"d2": "date"}}},
          "mark": {"type": "rule", "color": "#f7525f", "strokeWidth": 1.3},
          "encoding": {"x2": {"field": "d2"}}
        },
        {
          "data": {"values": [{"d": "2023-09-28T08:00:00Z", "d2": "2027-07-16", "v": -90.68}], "format": {"parse": {"d2": "date"}}},
          "mark": {"type": "rule", "color": "#4caf50", "strokeWidth": 1.3},
          "encoding": {"x2": {"field": "d2"}}
        },
        {
          "data": {"values": [{"d": "2023-09-28T08:00:00Z", "d2": "2027-07-16", "v": -70.68}], "format": {"parse": {"d2": "date"}}},
          "mark": {"type": "rule", "color": "#ffffff", "strokeWidth": 1, "strokeDash": [5, 4]},
          "encoding": {"x2": {"field": "d2"}}
        },
        {
          "data": {"values": [{"d": "2023-10-09", "v": -38.5, "t": "···"}]},
          "mark": {"type": "text", "align": "center", "baseline": "middle", "color": "#a8a8a8", "fontSize": 15},
          "encoding": {"text": {"field": "t"}}
        },
        {
          "data": {"name": "semanas"},
          "layer": [
            {
              "mark": {"type": "bar", "size": 7.5},
              "encoding": {
                "y": {"field": "m", "type": "quantitative"},
                "y2": {"datum": -120.47},
                "color": {
                  "field": "f",
                  "type": "nominal",
                  "legend": null,
                  "scale": {"domain": ["A", "a", "B", "b"], "range": ["#26a69a", "#b2dfdb", "#ef5350", "#ffcdd2"]}
                }
              }
            },
            {
              "mark": {"type": "line", "color": "#7a1a82", "strokeWidth": 2.4},
              "encoding": {"y": {"field": "r", "type": "quantitative"}}
            }
          ]
        },
        {
          "data": {"values": [{"d": "2023-09-28T12:00:00Z", "r": -87}, {"d": "2023-10-02", "r": -90.55}]},
          "mark": {"type": "line", "color": "#7a1a82", "strokeWidth": 2.4},
          "encoding": {"y": {"field": "r", "type": "quantitative"}}
        },
        {
          "data": {"values": [{"d": "2023-09-28T12:00:00Z", "d2": "2026-07-24", "v": -120.47}], "format": {"parse": {"d2": "date"}}},
          "mark": {"type": "rule", "color": "#ffffff", "strokeWidth": 1},
          "encoding": {"x2": {"field": "d2"}}
        },
        {
          "data": {"name": "macd"},
          "layer": [
            {
              "mark": {"type": "line", "color": "#2196f3", "strokeWidth": 1.6},
              "encoding": {"y": {"field": "a", "type": "quantitative"}}
            },
            {
              "mark": {"type": "line", "color": "#ff6d00", "strokeWidth": 1.6},
              "encoding": {"y": {"field": "b", "type": "quantitative"}}
            }
          ]
        }
      ]
    }
  ],
  "resolve": {"scale": {"y": "independent"}, "axis": {"y": "independent"}}
}
